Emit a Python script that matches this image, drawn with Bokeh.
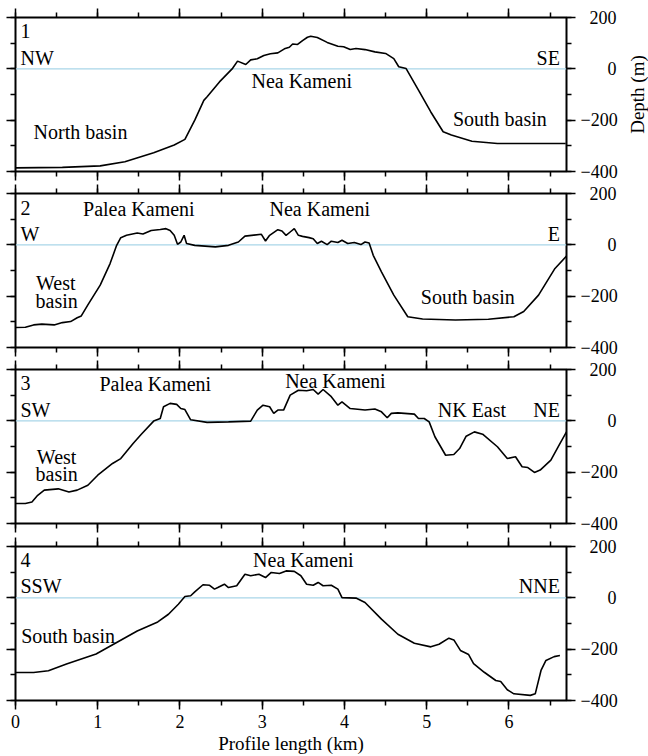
import math
from bokeh.plotting import figure
from bokeh.models import Range1d, LinearAxis, FixedTicker, Span, ColumnDataSource
from bokeh.layouts import column, row
from bokeh.embed import file_html
from bokeh.resources import INLINE
from bokeh.core.properties import value

FONT = "Liberation Serif"

# ---------------- data (profile length km, depth m) ----------------
P1_KM = [0.00, 0.57, 1.03, 1.33, 1.68, 1.93, 2.06, 2.18, 2.29, 2.33, 2.48, 2.64, 2.70, 2.80, 2.86,
         2.94, 3.02, 3.10, 3.19, 3.27, 3.33, 3.37, 3.43, 3.49, 3.55, 3.59, 3.67, 3.79, 3.92, 3.99,
         4.07, 4.14, 4.25, 4.37, 4.50, 4.60, 4.66, 4.75, 4.90, 5.05, 5.20, 5.30, 5.55, 5.86, 6.26,
         6.56, 6.69]
P1_DEPTH = [-386, -384, -378, -362, -327, -297, -275, -200, -123, -109, -51, 2, 30, 17, 35,
            39, 52, 59, 62, 78, 84, 97, 95, 110, 123, 127, 122, 103, 88, 86,
            75, 79, 75, 66, 60, 40, 8, 1, -83, -168, -245, -258, -282, -291, -291,
            -291, -291]

P2_KM = [0.00, 0.12, 0.22, 0.32, 0.47, 0.57, 0.67, 0.75, 0.80, 0.88, 1.03, 1.15, 1.23, 1.28, 1.35,
         1.48, 1.55, 1.65, 1.76, 1.83, 1.88, 1.93, 1.97, 2.01, 2.05, 2.08, 2.18, 2.43, 2.59, 2.71,
         2.79, 2.99, 3.04, 3.09, 3.19, 3.24, 3.29, 3.34, 3.39, 3.44, 3.49, 3.57, 3.62, 3.67, 3.72,
         3.79, 3.84, 3.92, 3.97, 4.04, 4.12, 4.20, 4.25, 4.30, 4.35, 4.45, 4.60, 4.77, 4.95, 5.35,
         5.75, 6.06, 6.18, 6.36, 6.56, 6.70]
P2_DEPTH = [-322, -321, -312, -309, -312, -303, -299, -284, -277, -234, -157, -73, -2, 28, 37,
            46, 42, 56, 60, 63, 56, 37, 2, 11, 37, 5, -2, -8, -2, 11,
            34, 41, 15, 37, 59, 54, 37, 50, 63, 37, 33, 28, 24, 5, 14,
            1, 14, 9, 18, 5, 9, 1, 11, 7, -41, -105, -196, -280, -289, -293,
            -290, -280, -260, -196, -92, -44]

P3_KM = [0.00, 0.12, 0.20, 0.27, 0.35, 0.52, 0.65, 0.75, 0.88, 1.00, 1.18, 1.28, 1.43, 1.53, 1.68,
         1.76, 1.80, 1.88, 1.96, 2.01, 2.06, 2.13, 2.33, 2.59, 2.86, 2.94, 3.01, 3.09, 3.14, 3.19,
         3.26, 3.34, 3.44, 3.54, 3.62, 3.68, 3.74, 3.84, 3.92, 3.97, 4.07, 4.25, 4.37, 4.45, 4.52,
         4.57, 4.65, 4.85, 4.90, 4.97, 5.03, 5.10, 5.23, 5.33, 5.40, 5.48, 5.58, 5.68, 5.86, 5.98,
         6.08, 6.16, 6.23, 6.31, 6.38, 6.51, 6.61, 6.70]
P3_DEPTH = [-322, -322, -316, -290, -270, -265, -277, -270, -251, -212, -166, -147, -88, -52, -1,
            9, 55, 68, 64, 48, 44, 4, -6, -4, -1, 42, 61, 55, 29, 42,
            42, 100, 119, 117, 122, 104, 122, 94, 61, 74, 48, 42, 46, 35, 12,
            29, 31, 26, 9, 9, -4, -62, -134, -131, -108, -60, -43, -52, -101, -147,
            -140, -179, -182, -201, -192, -153, -95, -43]

P4_KM = [0.00, 0.22, 0.40, 0.62, 0.98, 1.23, 1.48, 1.73, 1.86, 1.98, 2.06, 2.13, 2.18, 2.28, 2.36,
         2.42, 2.46, 2.54, 2.59, 2.69, 2.79, 2.86, 2.96, 3.04, 3.11, 3.21, 3.29, 3.39, 3.47, 3.54,
         3.62, 3.68, 3.74, 3.84, 3.92, 3.97, 4.14, 4.25, 4.45, 4.65, 4.85, 5.05, 5.15, 5.27, 5.33,
         5.41, 5.51, 5.57, 5.70, 5.84, 5.90, 5.98, 6.06, 6.26, 6.32, 6.39, 6.45, 6.55, 6.62]
P4_DEPTH = [-291, -291, -284, -258, -219, -174, -129, -94, -64, -25, 5, 8, 23, 51, 49,
            34, 40, 53, 40, 47, 92, 86, 92, 79, 99, 95, 105, 103, 86, 53,
            49, 60, 47, 49, 34, 1, -1, -18, -83, -142, -177, -191, -181, -157, -164,
            -205, -221, -256, -290, -322, -326, -358, -374, -380, -374, -283, -244, -229, -225]

SEA_LEVEL = 0

# axes
X_MAX = 6.7
Y_MIN, Y_MAX = -400, 200
X_MAJOR = [0, 1, 2, 3, 4, 5, 6]
X_MINOR = [0, 0.5, 1, 1.5, 2, 2.5, 3, 3.5, 4, 4.5, 5, 5.5, 6, 6.5]
Y_MAJOR = [-400, -200, 0, 200]
Y_MINOR = [-400, -300, -200, -100, 0, 100, 200]
NB = "\u00a0"
Y_TICK_TEXT = {200: NB * 2 + "200", 0: NB * 6 + "0", -200: "\u2212200", -400: "\u2212400"}
X_LABEL = "Profile length (km)"
Y_LABEL = "Depth (m)"

# annotation texts per panel: (text, km, depth of text middle, align)
LABELS = [
    [("1", 0.06, 146, "left"), ("NW", 0.06, 43, "left"), ("SE", 6.62, 43, "right"),
     ("Nea Kameni", 3.48, -46, "center"), ("North basin", 0.79, -247, "center"),
     ("South basin", 5.89, -197, "center")],
    [("2", 0.06, 144, "left"), ("Palea Kameni", 1.50, 141, "center"), ("Nea Kameni", 3.70, 141, "center"),
     ("W", 0.06, 43, "left"), ("E", 6.62, 43, "right"), ("West", 0.49, -150, "center"),
     ("basin", 0.50, -219, "center"), ("South basin", 5.50, -202, "center")],
    [("3", 0.06, 146, "left"), ("Palea Kameni", 1.70, 143, "center"), ("Nea Kameni", 3.89, 156, "center"),
     ("SW", 0.06, 42, "left"), ("NE", 6.62, 42, "right"), ("NK East", 5.55, 42, "center"),
     ("West", 0.50, -140, "center"), ("basin", 0.50, -207, "center")],
    [("4", 0.06, 146, "left"), ("Nea Kameni", 3.50, 149, "center"), ("SSW", 0.06, 45, "left"),
     ("NNE", 6.62, 45, "right"), ("South basin", 0.64, -147, "center")],
]

PROFILES = [(P1_KM, P1_DEPTH), (P2_KM, P2_DEPTH), (P3_KM, P3_DEPTH), (P4_KM, P4_DEPTH)]


def make_axis(ticks, minor, labelled, overrides=None):
    ax = LinearAxis(ticker=FixedTicker(ticks=ticks, minor_ticks=minor))
    ax.axis_line_color = None
    ax.major_tick_in = 0
    ax.major_tick_out = 9
    ax.minor_tick_in = 0
    ax.minor_tick_out = 5
    ax.major_tick_line_width = 1.5
    ax.minor_tick_line_width = 1.5
    ax.major_tick_line_color = "black"
    ax.minor_tick_line_color = "black"
    if labelled:
        ax.major_label_text_font = FONT
        ax.major_label_text_font_size = "18px"
        ax.major_label_text_color = "black"
        ax.major_label_standoff = 5
        if overrides:
            ax.major_label_overrides = overrides
    else:
        ax.major_label_text_font_size = "0px"
        ax.major_label_text_color = None
        ax.major_label_standoff = 0
    ax.axis_label_text_font = FONT
    ax.axis_label_text_font_style = "normal"
    ax.axis_label_text_font_size = "19px"
    ax.axis_label_text_color = "black"
    return ax


BORDERS = [(17, 11), (11, 11), (11, 12), (11, 56)]
YLAB_W = 22

panels = []
for i, ((km, depth), labels) in enumerate(zip(PROFILES, LABELS)):
    top, bottom = BORDERS[i]
    p = figure(frame_width=551, frame_height=154,
               x_range=Range1d(0, X_MAX), y_range=Range1d(Y_MIN, Y_MAX),
               min_border_left=15, min_border_right=82 - (YLAB_W if i == 0 else 0),
               min_border_top=top, min_border_bottom=bottom,
               x_axis_location=None, y_axis_location=None,
               toolbar_location=None, output_backend="svg",
               background_fill_color="white", border_fill_color="white")
    p.outline_line_color = "black"
    p.outline_line_width = 2
    p.xgrid.visible = False
    p.ygrid.visible = False

    # axes
    p.add_layout(make_axis(X_MAJOR, X_MINOR, False), "above")
    last = (i == len(PROFILES) - 1)
    bx = make_axis(X_MAJOR, X_MINOR, last)
    if last:
        bx.axis_label = X_LABEL
        bx.axis_label_standoff = 2
    p.add_layout(bx, "below")
    p.add_layout(make_axis(Y_MAJOR, Y_MINOR, False), "left")
    p.add_layout(make_axis(Y_MAJOR, Y_MINOR, True, Y_TICK_TEXT), "right")

    sea = Span(location=SEA_LEVEL, dimension="width", line_color="#a9d6e8", line_width=1.3)
    sea.level = "underlay"
    p.add_layout(sea)

    p.line(km, depth, line_color="black", line_width=1.6)

    src = ColumnDataSource(dict(text=[l[0] for l in labels], x=[l[1] for l in labels],
                                y=[l[2] for l in labels], align=[l[3] for l in labels]))
    p.text(x="x", y="y", text="text", text_align="align", text_baseline="middle",
           text_font=value(FONT), text_font_size="20px", text_color="black", source=src)
    panels.append(p)

# narrow strip to the right of panel 1 carrying the y-axis title (reads bottom-to-top)
ylab = figure(frame_width=YLAB_W, frame_height=154,
              x_range=Range1d(0, 1), y_range=Range1d(Y_MIN, Y_MAX),
              min_border_left=0, min_border_right=0,
              min_border_top=BORDERS[0][0], min_border_bottom=BORDERS[0][1],
              x_axis_location=None, y_axis_location=None,
              toolbar_location=None, output_backend="svg",
              background_fill_color="white", border_fill_color="white")
ylab.outline_line_color = None
ylab.xgrid.visible = False
ylab.ygrid.visible = False
ylab.text(x=[0.5], y=[(Y_MIN + Y_MAX) / 2], text=[Y_LABEL], angle=math.pi / 2,
          text_align="center", text_baseline="middle", text_font=value(FONT),
          text_font_size="19px", text_color="black")

layout = column(row(panels[0], ylab, spacing=0), *panels[1:], spacing=0)
open("out.html", "w").write(file_html(layout, INLINE))
